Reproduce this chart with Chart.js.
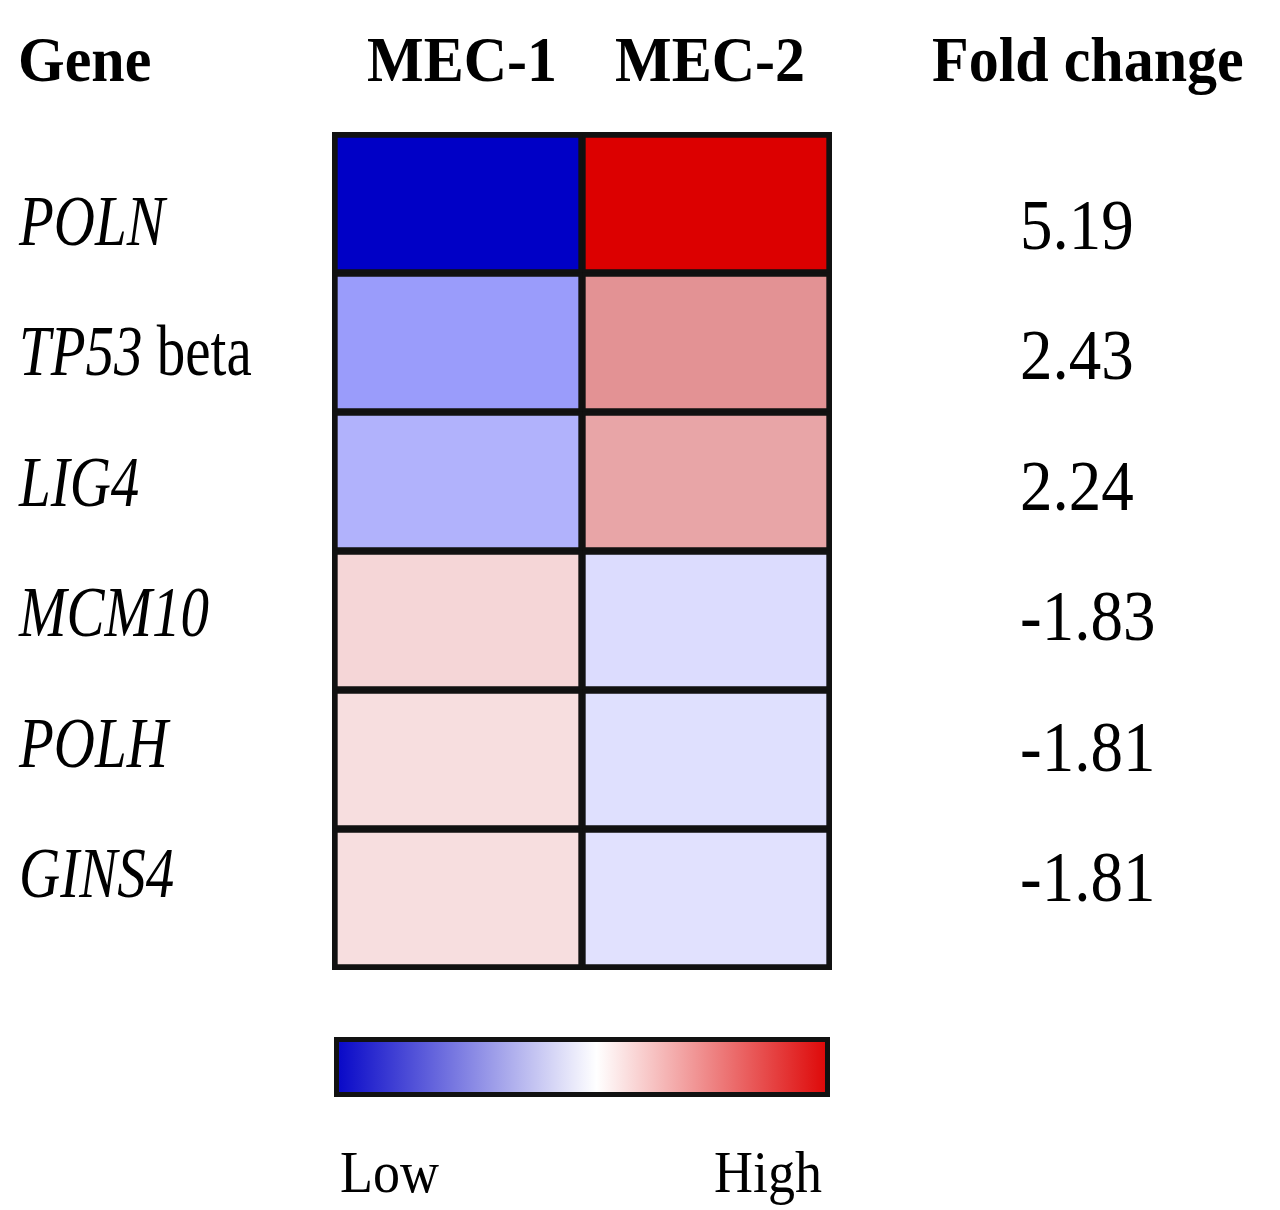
<!DOCTYPE html>
<html>
<head>
<meta charset="utf-8">
<script src="https://cdn.jsdelivr.net/npm/chart.js@4.4.1/dist/chart.umd.min.js"></script>
<style>
  html, body { margin: 0; padding: 0; background: #fff; }
  #wrap { width: 1280px; height: 1210px; }
</style>
</head>
<body>
<div id="wrap"><canvas id="heatmap" width="1280" height="1210"></canvas></div>
<script>
// Data
const genes = ['POLN', 'TP53 beta', 'LIG4', 'MCM10', 'POLH', 'GINS4'];
const samples = ['MEC-1', 'MEC-2'];
// relative expression, -1 = low (blue), +1 = high (red)
const mec1 = [-1.0, -0.4, -0.31, 0.15, 0.12, 0.12];
const mec2 = [1.0, 0.4, 0.33, -0.14, -0.125, -0.12];
const foldChange = [5.19, 2.43, 2.24, -1.83, -1.81, -1.81];
const legendLabels = ['Low', 'High'];

// colour scale: value -> rgb
const colorStops = [
  [-1, [0, 0, 198]],
  [-0.4, [154, 156, 251]],
  [0, [255, 255, 255]],
  [0.4, [227, 146, 148]],
  [1, [220, 0, 0]],
];

function valueColor(v) {
  for (let i = 0; i < colorStops.length - 1; i++) {
    const [a, ca] = colorStops[i];
    const [b, cb] = colorStops[i + 1];
    if (v >= a && v <= b) {
      const f = (v - a) / (b - a);
      const c = ca.map((x, k) => Math.round(x + (cb[k] - x) * f));
      return 'rgb(' + c.join(',') + ')';
    }
  }
  return v < 0 ? 'rgb(0,0,198)' : 'rgb(220,0,0)';
}

const serif = '"Liberation Serif", "Times New Roman", Times, serif';

function drawText(ctx, text, x, y, font, sy, align) {
  ctx.save();
  ctx.translate(x, y);
  ctx.scale(1, sy);
  ctx.font = font;
  ctx.textAlign = align || 'left';
  ctx.textBaseline = 'alphabetic';
  ctx.fillStyle = '#000';
  ctx.fillText(text, 0, 0);
  const w = ctx.measureText(text).width;
  ctx.restore();
  return w;
}

// labels, headers and colour bar
const decorPlugin = {
  id: 'decor',
  afterDraw(chart) {
    const ctx = chart.ctx;
    const area = chart.chartArea;
    const xs = chart.scales.x;
    const ts = chart.scales.yText;

    // thicker outer frame
    ctx.save();
    ctx.strokeStyle = '#111';
    ctx.lineWidth = 2;
    ctx.strokeRect(area.left - 1, area.top - 1, area.right - area.left + 2, area.bottom - area.top + 2);
    ctx.restore();

    // headers
    const hFont = 'bold 60px ' + serif;
    drawText(ctx, 'Gene', 18, 81, hFont, 1.05);
    samples.forEach((s, i) => {
      drawText(ctx, s, xs.getPixelForValue(i + 0.5) + 4, 81, hFont, 1.05, 'center');
    });
    drawText(ctx, 'Fold change', 932, 81, hFont, 1.05);

    // gene names
    genes.forEach((g, i) => {
      const y = ts.getPixelForValue(i);
      const parts = g.split(' ');
      let x = 19;
      x += drawText(ctx, parts[0], x, y, 'italic 57px ' + serif, 1.25);
      if (parts.length > 1) {
        drawText(ctx, ' ' + parts.slice(1).join(' '), x, y, '57px ' + serif, 1.25);
      }
    });

    // fold change values
    foldChange.forEach((v, i) => {
      drawText(ctx, v.toFixed(2), 1020, ts.getPixelForValue(i) + 4, '65px ' + serif, 1.1);
    });

    // colour bar (plain blue - white - red ramp)
    const x0 = xs.getPixelForValue(0);
    const x1 = xs.getPixelForValue(2);
    const top = 1037, bottom = 1097, bw = 5;
    ctx.save();
    ctx.fillStyle = '#111';
    ctx.fillRect(x0, top, x1 - x0, bottom - top);
    const grad = ctx.createLinearGradient(x0 + bw, 0, x1 - bw, 0);
    grad.addColorStop(0, 'rgb(10,10,200)');
    grad.addColorStop(0.53, 'rgb(255,255,255)');
    grad.addColorStop(1, 'rgb(222,10,10)');
    ctx.fillStyle = grad;
    ctx.fillRect(x0 + bw, top + bw, x1 - x0 - 2 * bw, bottom - top - 2 * bw);
    ctx.restore();

    drawText(ctx, legendLabels[0], x0 + 6, 1192, '54px ' + serif, 1.1, 'left');
    drawText(ctx, legendLabels[1], x1 - 8, 1192, '54px ' + serif, 1.1, 'right');
  },
};

const ctx = document.getElementById('heatmap');
new Chart(ctx, {
  type: 'bar',
  data: {
    labels: genes,
    datasets: [
      {
        label: samples[0],
        data: genes.map(() => [0, 1]),
        backgroundColor: mec1.map(valueColor),
      },
      {
        label: samples[1],
        data: genes.map(() => [1, 2]),
        backgroundColor: mec2.map(valueColor),
      },
    ],
  },
  options: {
    indexAxis: 'y',
    responsive: false,
    animation: false,
    devicePixelRatio: 1,
    layout: {
      padding: { left: 334, right: 450, top: 134, bottom: 242 },
    },
    datasets: {
      bar: {
        borderColor: '#111',
        borderWidth: 4,
        borderSkipped: false,
        barPercentage: 1,
        categoryPercentage: 1,
        grouped: false,
      },
    },
    plugins: {
      legend: { display: false },
      tooltip: { enabled: false },
    },
    scales: {
      x: { type: 'linear', min: 0, max: 2, display: false },
      y: { type: 'category', display: false, offset: true },
      // text rows are spaced a little tighter than the cells
      yText: {
        type: 'linear',
        axis: 'y',
        reverse: true,
        offset: false,
        min: -0.851,
        max: 5.545,
        display: false,
      },
    },
  },
  plugins: [decorPlugin],
});
</script>
</body>
</html>
